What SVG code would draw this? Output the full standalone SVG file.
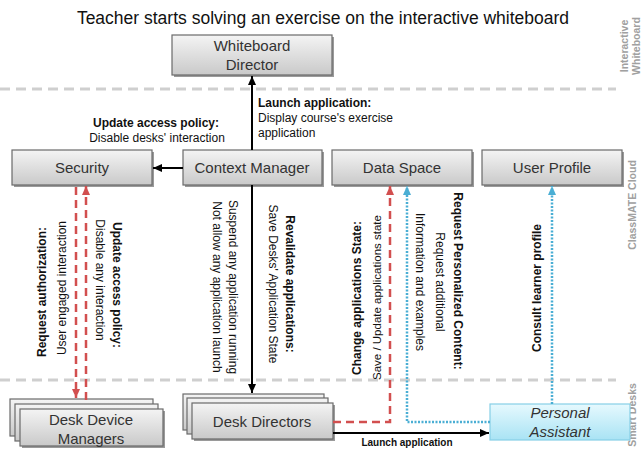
<svg xmlns="http://www.w3.org/2000/svg" width="642" height="450" viewBox="0 0 642 450">
<defs>
<linearGradient id="gGray" x1="0" y1="0" x2="0" y2="1">
<stop offset="0" stop-color="#f4f4f4"/>
<stop offset="1" stop-color="#c9c9c9"/>
</linearGradient>
<linearGradient id="gBlue" x1="0" y1="0" x2="0" y2="1">
<stop offset="0" stop-color="#e6f9fe"/>
<stop offset="1" stop-color="#a9e3f4"/>
</linearGradient>
<marker id="aBlack" markerUnits="userSpaceOnUse" markerWidth="10" markerHeight="10" refX="9" refY="5" orient="auto">
<path d="M0,1 L9,5 L0,9 z" fill="#000"/>
</marker>
<marker id="aRed" markerUnits="userSpaceOnUse" markerWidth="10" markerHeight="10" refX="9" refY="5" orient="auto">
<path d="M0,1 L9,5 L0,9 z" fill="#d24f4f"/>
</marker>
<marker id="aBlue" markerUnits="userSpaceOnUse" markerWidth="10" markerHeight="10" refX="9" refY="5" orient="auto">
<path d="M0,1 L9,5 L0,9 z" fill="#4aaed4"/>
</marker>
</defs>
<style>
.box{fill:url(#gGray);stroke:#6a6a6a;stroke-width:1.2}
.shadow{fill:#9a9a9a}
.bt{font-family:"Liberation Sans",Arial,sans-serif;font-size:15px;fill:#333;text-anchor:middle}
.lbl{font-family:"Liberation Sans",Arial,sans-serif;font-size:12px;fill:#111}
.b{font-weight:bold}
.mid{text-anchor:middle}
.sec{font-family:"Liberation Sans",Arial,sans-serif;font-size:10.5px;fill:#a0a0a0;text-anchor:middle;font-weight:bold}
.sep{stroke:#cfcfcf;stroke-width:3;stroke-dasharray:10,6;fill:none}
.blk{stroke:#000;stroke-width:2;fill:none}
.red{stroke:#d24f4f;stroke-width:2.5;stroke-dasharray:8,5;fill:none}
.blu{stroke:#4aaed4;stroke-width:2.5;stroke-dasharray:2,1.5;fill:none}
</style>
<rect width="642" height="450" fill="#fff"/>
<text x="323" y="24" class="lbl mid" style="font-size:17.5px">Teacher starts solving an exercise on the interactive whiteboard</text>
<g id="separators">
<line x1="0" y1="89" x2="616" y2="89" class="sep"/>
<line x1="0" y1="380" x2="616" y2="380" class="sep"/>
</g>
<g id="section-labels">
<text class="sec" transform="translate(628,46) rotate(-90)">Interactive</text>
<text class="sec" transform="translate(640,46) rotate(-90)">Whiteboard</text>
<text class="sec" transform="translate(636,205) rotate(-90)">ClassMATE Cloud</text>
<text class="sec" transform="translate(636,415) rotate(-90)">Smart Desks</text>
</g>
<g id="whiteboard-director">
<rect x="174" y="37" width="160" height="40" class="shadow"/>
<rect x="172" y="35" width="160" height="40" class="box"/>
<text x="252" y="51" class="bt">Whiteboard</text>
<text x="252" y="70" class="bt">Director</text>
</g>
<g id="security">
<rect x="14" y="152" width="140" height="35" class="shadow"/>
<rect x="12" y="150" width="140" height="35" class="box"/>
<text x="82" y="173" class="bt">Security</text>
</g>
<g id="context-manager">
<rect x="185" y="152" width="139" height="35" class="shadow"/>
<rect x="183" y="150" width="139" height="35" class="box"/>
<text x="252" y="173" class="bt">Context Manager</text>
</g>
<g id="data-space">
<rect x="334" y="152" width="140" height="35" class="shadow"/>
<rect x="332" y="150" width="140" height="35" class="box"/>
<text x="402" y="173" class="bt">Data Space</text>
</g>
<g id="user-profile">
<rect x="484" y="152" width="140" height="35" class="shadow"/>
<rect x="482" y="150" width="140" height="35" class="box"/>
<text x="552" y="173" class="bt">User Profile</text>
</g>
<g id="desk-device-managers">
<rect x="10" y="399" width="143" height="37" class="box"/>
<rect x="15" y="404" width="143" height="37" class="box"/>
<rect x="22" y="411" width="143" height="37" class="shadow"/>
<rect x="20" y="409" width="143" height="37" class="box"/>
<text x="91" y="425" class="bt">Desk Device</text>
<text x="91" y="444" class="bt">Managers</text>
</g>
<g id="desk-directors">
<rect x="183" y="394" width="141" height="36" class="box"/>
<rect x="187" y="398" width="141" height="36" class="box"/>
<rect x="194" y="405" width="141" height="36" class="shadow"/>
<rect x="192" y="403" width="141" height="36" class="box"/>
<text x="262" y="427" class="bt">Desk Directors</text>
</g>
<g id="personal-assistant">
<rect x="490" y="404" width="140" height="36" fill="url(#gBlue)" stroke="#86cfe6" stroke-width="1.2"/>
<text x="560" y="418" class="bt" style="font-style:italic">Personal</text>
<text x="560" y="437" class="bt" style="font-style:italic">Assistant</text>
</g>
<g id="connectors">
<line x1="252" y1="150" x2="252" y2="76" class="blk" marker-end="url(#aBlack)"/>
<line x1="183" y1="168" x2="153" y2="168" class="blk" marker-end="url(#aBlack)"/>
<line x1="252" y1="185" x2="252" y2="393" class="blk" marker-end="url(#aBlack)"/>
<line x1="76" y1="187" x2="76" y2="398" class="red" marker-end="url(#aRed)"/>
<line x1="86" y1="400" x2="86" y2="186" class="red" marker-end="url(#aRed)"/>
<path d="M333,422 H390 V186" class="red" marker-end="url(#aRed)"/>
<path d="M490,422 H407 V186" class="blu" marker-end="url(#aBlue)"/>
<line x1="552" y1="404" x2="552" y2="186" class="blu" marker-end="url(#aBlue)"/>
<line x1="333" y1="433" x2="489" y2="433" class="blk" marker-end="url(#aBlack)"/>
</g>
<g id="labels">
<text x="156" y="127" class="lbl b mid">Update access policy:</text>
<text x="157" y="142" class="lbl mid">Disable desks' interaction</text>
<text x="258" y="107" class="lbl b">Launch application:</text>
<text x="258" y="122" class="lbl">Display course's exercise</text>
<text x="258" y="137" class="lbl">application</text>
<text class="lbl b mid" transform="translate(46,292) rotate(-90)">Request authorization:</text>
<text class="lbl mid" transform="translate(66,288) rotate(-90)">User engaged interaction</text>
<text class="lbl b mid" transform="translate(113,285) rotate(90)">Update access policy:</text>
<text class="lbl mid" transform="translate(96,280) rotate(90)">Disable any interaction</text>
<text class="lbl mid" transform="translate(229,287) rotate(90)">Suspend any application running</text>
<text class="lbl mid" transform="translate(213,287) rotate(90)">Not allow any application launch</text>
<text class="lbl b mid" transform="translate(286,284) rotate(90)">Revalidate applications:</text>
<text class="lbl mid" transform="translate(269,284) rotate(90)">Save Desks' Application State</text>
<text class="lbl b" transform="translate(361,375) rotate(-90)">Change applications State:</text>
<text class="lbl" transform="translate(381,380) rotate(-90)" style="font-size:11.5px">Save / Update applications state</text>
<text class="lbl b mid" transform="translate(454,281) rotate(90)">Request Personalized Content:</text>
<text class="lbl mid" transform="translate(436,282) rotate(90)">Request additional</text>
<text class="lbl mid" transform="translate(416,282) rotate(90)">Information and examples</text>
<text class="lbl b mid" transform="translate(541,288) rotate(-90)">Consult learner profile</text>
<text x="407" y="446" class="lbl b mid" style="font-size:10px">Launch application</text>
</g>
</svg>
